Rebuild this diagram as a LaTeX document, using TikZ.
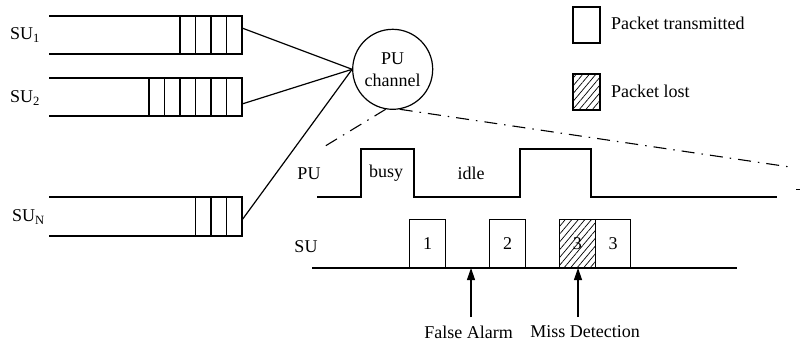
\documentclass[tikz,border=0pt]{standalone}
\usepackage{fontspec}
\setmainfont{Liberation Serif}
\usetikzlibrary{arrows.meta,patterns.meta}
\begin{document}
\begin{tikzpicture}[x=1pt,y=-1pt,
  every node/.style={font=\fontsize{18}{22}\selectfont, inner sep=0pt},
  ln/.style={line width=1.2pt},
  dd/.style={line width=1.1pt, dash pattern=on 13pt off 7pt on 1.5pt off 7pt},
  pkt/.style={draw, line width=1.2pt, minimum width=36pt, minimum height=48pt, anchor=south west},
  hatch/.style={pattern={Lines[angle=50,distance=5pt,line width=0.7pt]}},
  arr/.style={line width=1.2pt, -{Triangle[length=12pt,width=8pt]}},
]
\useasboundingbox (0,0) rectangle (800,341);

% queues
\draw[ln] (49,16) -- (242,16) -- (242,54) -- (49,54);
\foreach \i in {1,...,4} \draw[ln] (242-15.5*\i,16) -- ++(0,38);
\draw[ln] (49,78) -- (242,78) -- (242,116) -- (49,116);
\foreach \i in {1,...,6} \draw[ln] (242-15.5*\i,78) -- ++(0,38);
\draw[ln] (49,197) -- (242,197) -- (242,236) -- (49,236);
\foreach \i in {1,...,3} \draw[ln] (242-15.5*\i,197) -- ++(0,39);

\node[anchor=west] (su1) at (10,35) {SU\textsubscript{1}};
\node[anchor=west] (su2) at (10,98) {SU\textsubscript{2}};
\node[anchor=west] (sun) at (12,217) {SU\textsubscript{N}};

% PU channel
\node[draw, circle, ln, minimum size=80pt, align=center] (pu) at (392.7,69.3) {PU\\channel};
\coordinate (q1) at (242,28);
\coordinate (q2) at (242,104);
\coordinate (qn) at (242,220);
\draw[ln] (q1) -- (pu.west);
\draw[ln] (q2) -- (pu.west);
\draw[ln] (qn) -- (pu.west);

% zoom lines
\coordinate (zl) at (322,148);
\coordinate (zr) at (790,167);
\draw[dd] (pu.-100) -- (zl);
\draw[dd] (pu.-80) -- (zr);
\coordinate (m1) at (796,189);
\coordinate (m2) at (800,189);
\draw[line width=1pt] (m1) -- (m2);

% PU waveform
\draw[ln] (317,197) -- (361,197) -- (361,149) -- (414,149) -- (414,197)
  -- (520,197) -- (520,149) -- (591,149) -- (591,197) -- (777,197);
\node (pul) at (309,174) {PU};
\node (busy) at (386,173) {busy};
\node (idle) at (471,173) {idle};

% SU timeline
\node (sul) at (306,247) {SU};
\draw[ln] (312,268) -- (737,268);
\node[pkt] (p1) at (409,268) {1};
\node[pkt] (p2) at (489,268) {2};
\node[pkt, hatch] (p3l) at (559,268) {3};
\node[pkt, minimum width=35pt] (p3) at (595,268) {3};

% arrows
\coordinate (fa) at (471,268);
\coordinate (fat) at (471,317);
\coordinate (md) at (578,268);
\coordinate (mdt) at (578,317);
\draw[arr] (fat) -- (fa);
\draw[arr] (mdt) -- (md);
\node (fal) at (468.5,332) {False Alarm};
\node (mdl) at (585,332) {Miss Detection};

% legend
\node[draw, ln, minimum width=27pt, minimum height=36pt] (lg1) at (586.5,25) {};
\node[anchor=west] (lg1t) at (611,23) {Packet transmitted};
\node[draw, ln, hatch, minimum width=27pt, minimum height=36pt] (lg2) at (586.5,92) {};
\node[anchor=west] (lg2t) at (611,91) {Packet lost};
\end{tikzpicture}
\end{document}
